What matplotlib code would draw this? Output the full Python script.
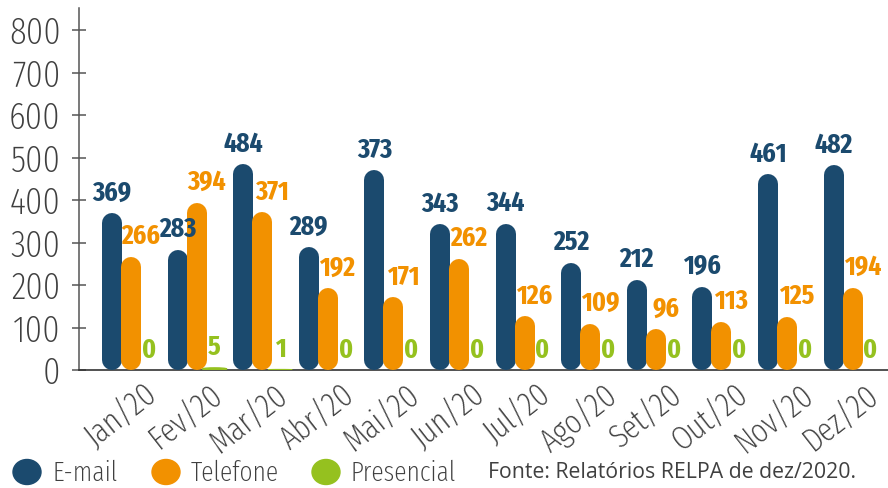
import matplotlib
matplotlib.use("Agg")
import matplotlib.pyplot as plt
from matplotlib import font_manager as fm
from matplotlib.patches import Ellipse

# data
months = ["Jan/20", "Fev/20", "Mar/20", "Abr/20", "Mai/20", "Jun/20",
          "Jul/20", "Ago/20", "Set/20", "Out/20", "Nov/20", "Dez/20"]
email = [369, 283, 484, 289, 373, 343, 344, 252, 212, 196, 461, 482]
# in the source the Mai/20 bar is drawn at ~470 although it is labelled 373
email_bar = [369, 283, 484, 289, 470, 343, 344, 252, 212, 196, 461, 482]
telefone = [266, 394, 371, 192, 171, 262, 126, 109, 96, 113, 125, 194]
presencial = [0, 5, 1, 0, 0, 0, 0, 0, 0, 0, 0, 0]
yticks = [0, 100, 200, 300, 400, 500, 600, 700, 800]
series = ["E-mail", "Telefone", "Presencial"]
source = "Fonte: Relatórios RELPA de dez/2020."

NAVY, ORANGE, GREEN = "#1b4a6e", "#f29100", "#95c11f"
GREY = "#3f3f3f"

_names = {f.name for f in fm.fontManager.ttflist}
def pick(*fams):
    for f in fams:
        if f in _names:
            return f
    return "DejaVu Sans"

COND = pick("Fira Sans Extra Condensed", "Fira Sans Condensed", "Liberation Sans Narrow")
PLAIN = pick("Open Sans SemiCondensed", "Open Sans", "Noto Sans")
PLAIN_SIZE = 17.5 if "Semi" in PLAIN else 15.3
THIN = 275   # between Fira's thin and light cuts

W, H, DPI = 888, 488, 100
fig = plt.figure(figsize=(W / DPI, H / DPI), dpi=DPI)
# axes box in pixels: x 79..888, y 8..370 (from top)
ax = fig.add_axes([79 / W, (H - 370) / H, (W - 79) / W, 362 / H])
YMAX = 852
XPX = 65.6                      # pixels per month group
ax.set_ylim(0, YMAX)
ax.set_xlim((79 - 112) / XPX, (888 - 112) / XPX)

px_y = 362 / YMAX               # pixels per data unit on y
bar_px = 20
r = bar_px / 2 / px_y           # cap radius in y data units
bw = bar_px / XPX               # bar width in x data units
lw = bar_px * 72 / DPI

def pill(x, h, color, z):
    if h <= 0:
        return
    if h >= 2 * r:
        ax.plot([x, x], [r, h - r], color=color, lw=lw,
                solid_capstyle="round", zorder=z)
    else:
        ax.add_patch(Ellipse((x, h / 2), bw * 1.2, h, color=color, zorder=z))

off_o, off_g = 19 / XPX, 37 / XPX
for i in range(len(months)):
    pill(i, email_bar[i], NAVY, 3)
    pill(i + off_o, telefone[i], ORANGE, 4)
    pill(i + off_g, presencial[i], GREEN, 5)
    for x, h, v, c, dx in [(i, email_bar[i], email[i], NAVY, 0),
                           (i + off_o, telefone[i], telefone[i], ORANGE, 7),
                           (i + off_g, presencial[i], presencial[i], GREEN, 0)]:
        ax.annotate(str(v), (x, h), xytext=(dx, 9), textcoords="offset points",
                    ha="center", va="baseline", color=c, fontsize=20,
                    family=COND, fontweight="bold", zorder=6)

ax.set_yticks(yticks)
ax.set_yticklabels([str(t) for t in yticks], family=COND, fontweight=THIN,
                   fontsize=27, color=GREY)
ax.tick_params(axis="y", direction="inout", length=9.4, width=1.1,
               color="#555555", pad=8.6)
ax.set_xticks([i + 0.48 for i in range(len(months))])
ax.set_xticklabels(months, rotation=38, ha="right", va="top",
                   rotation_mode="anchor", family=COND, fontweight=THIN,
                   fontsize=24, color=GREY)
ax.tick_params(axis="x", length=0, pad=6)
for s in ("top", "right"):
    ax.spines[s].set_visible(False)
ax.spines["left"].set_color("#555555")
ax.spines["left"].set_linewidth(1.1)
ax.spines["bottom"].set_color("#333333")
ax.spines["bottom"].set_linewidth(1.2)

# legend drawn by hand (circle centre x, text start x in pixels)
for name, c, cx, tx in zip(series, [NAVY, ORANGE, GREEN],
                           [27, 166, 326], [52, 191, 350]):
    fig.add_artist(Ellipse((cx / W, 1 - 472 / H), 28 / W, 25 / H,
                           color=c, transform=fig.transFigure))
    fig.text(tx / W, 1 - 473 / H, name, va="center", ha="left",
             family=COND, fontweight=THIN, fontsize=20, color=GREY)
fig.text(488 / W, 1 - 473 / H, source, va="center", ha="left",
         family=PLAIN, fontsize=PLAIN_SIZE, color="#404040")

fig.savefig("out.png", dpi=DPI)
